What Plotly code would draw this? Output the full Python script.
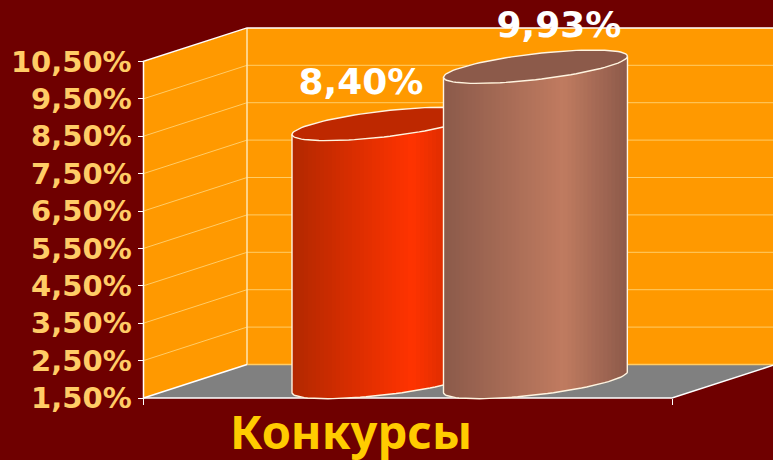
import math
import plotly.graph_objects as go

# ---- data ----
category = "Конкурсы"
series_values = [8.40, 9.93]
value_labels = ["8,40%", "9,93%"]
tick_values = [1.5, 2.5, 3.5, 4.5, 5.5, 6.5, 7.5, 8.5, 9.5, 10.5]
tick_labels = ["1,50%", "2,50%", "3,50%", "4,50%", "5,50%", "6,50%", "7,50%", "8,50%", "9,50%", "10,50%"]

# ---- colours ----
BG = "#6F0000"
WALL = "#FF9900"
FLOOR = "#808080"
GRID = "#FFCC66"
EDGE = "#FFFFFF"
TICK_TXT = "#FFCC66"
TITLE_TXT = "#FFCC00"
shades = [((178, 40, 0), (255, 51, 0), (191, 40, 0)), ((139, 90, 74), (192, 123, 96), (140, 90, 74))]
top_faces = ["#BE2800", "#8C5A4A"]
centers = [384.0, 535.5]
label_shift = [-23.0, 23.5]

# ---- oblique projection ----
W, H = 773, 460
PX = 37.4                    # pixels per percentage point
Y_BOTTOM, Y_TOP = 1.5 - 62 / PX, 1.5 + 398 / PX
X0, X1 = 143.5, 672.0        # front edge of the floor
DX, DY = 103.5, 33.5 / PX    # depth vector
RIGHT = 800
A, B1, B2 = 92.0, 10.5 / PX, 13.0 / PX   # cylinder ellipse
MID = 16.0 / PX              # centre of cylinder depth, as a value offset
LOW, HIGH = tick_values[0], tick_values[-1]

fig = go.Figure()


def poly(xs, ys, fill=None, line=None, width=1.0):
    fig.add_trace(go.Scatter(
        x=xs, y=ys, mode="lines", hoverinfo="skip", showlegend=False, cliponaxis=False,
        fill="toself" if fill else None, fillcolor=fill,
        line=dict(color=line or "rgba(0,0,0,0)", width=width if line else 0),
    ))


# walls and floor
poly([X0, X0 + DX, X0 + DX, X0], [LOW, LOW + DY, HIGH + DY, HIGH], fill=WALL)
poly([X0 + DX, RIGHT, RIGHT, X0 + DX], [LOW + DY, LOW + DY, HIGH + DY, HIGH + DY], fill=WALL)
EDGE_END = LOW + DY * (RIGHT - X1) / DX
poly([X0, X0 + DX, RIGHT, RIGHT, X1], [LOW, LOW + DY, LOW + DY, EDGE_END, LOW], fill=FLOOR)

# gridlines
for v in tick_values[1:-1]:
    poly([X0, X0 + DX, RIGHT], [v, v + DY, v + DY], line=GRID)
poly([X0 + DX, RIGHT], [LOW + DY, LOW + DY], line=GRID, width=1.5)
poly([X0 + DX, X0 + DX], [LOW + DY, HIGH + DY], line="#FFE6B0", width=1.5)

# wall and floor edges
poly([X0, X0, X0 + DX, RIGHT], [LOW, HIGH, HIGH + DY, HIGH + DY], line=EDGE, width=1.5)
poly([X0, X0 + DX], [LOW, LOW + DY], line=EDGE, width=1.5)
poly([X0, X1, RIGHT], [LOW, LOW, EDGE_END], line=EDGE, width=1.5)


def mix(a, b, f):
    return tuple(round(a[i] + (b[i] - a[i]) * f) for i in range(3))


def front_edge(cx, level, x):
    c = max(-1.0, min(1.0, (x - cx) / A))
    s = math.sqrt(1 - c * c)
    return level + B1 * c - B2 * s


# cylinders
for cx, value, (dark, light, end), face in zip(centers, series_values, shades, top_faces):
    base = LOW + MID
    top = value + MID
    n = 46
    for i in range(n):
        f = (i + 0.5) / n
        col = mix(dark, light, f / 0.65) if f < 0.65 else mix(light, end, (f - 0.65) / 0.35)
        xa = cx - A + 2 * A * i / n
        xb = cx - A + 2 * A * (i + 1) / n + (0.5 if i < n - 1 else 0)
        xs_strip = [xa + (xb - xa) * k / 4 for k in range(5)]
        bottom_edge = [front_edge(cx, base, x) for x in xs_strip]
        top_edge = [front_edge(cx, top, x) for x in reversed(xs_strip)]
        poly(xs_strip + xs_strip[::-1], bottom_edge + top_edge, fill=f"rgb{col}")
    ts = [2 * math.pi * i / 96 for i in range(97)]
    ex = [cx + A * math.cos(t) for t in ts]
    ey = [top + B1 * math.cos(t) + B2 * math.sin(t) for t in ts]
    poly(ex, ey, fill=face, line="#FFF4E0", width=1.4)
    lower = [t for t in ts if t <= math.pi]
    bx = [cx + A * math.cos(t) for t in lower]
    by = [base + B1 * math.cos(t) - B2 * math.sin(t) for t in lower]
    poly([cx + A] + bx + [cx - A],
         [top + B1] + by + [top - B1], line="#FFF4E0", width=1.4)

# value labels
fig.add_trace(go.Scatter(
    x=[c + s for c, s in zip(centers, label_shift)],
    y=[v + MID + 38.5 / PX for v in series_values],
    text=value_labels, mode="text", textposition="middle center", hoverinfo="skip",
    showlegend=False, cliponaxis=False,
    textfont=dict(family="DejaVu Sans", size=36, color="#FFFFFF", weight="bold"),
))

fig.add_annotation(
    x=350.5, y=LOW - 33 / PX, text=f"<b>{category}</b>", showarrow=False,
    font=dict(family="Noto Sans", size=47, color=TITLE_TXT),
    xanchor="center", yanchor="middle",
)

fig.update_layout(
    width=W, height=H, autosize=False, margin=dict(l=0, r=0, t=0, b=0),
    paper_bgcolor=BG, plot_bgcolor=BG, showlegend=False,
    font=dict(family="DejaVu Sans"),
    xaxis=dict(
        range=[0, W], domain=[0, 1], showgrid=False, zeroline=False, showline=False,
        tickvals=[X0, X1], ticktext=["", ""], ticks="outside", ticklen=6, tickcolor=EDGE,
        anchor="free", position=62 / H,
    ),
    yaxis=dict(
        range=[Y_BOTTOM, Y_TOP], domain=[0, 1], showgrid=False, zeroline=False, showline=False,
        tickvals=tick_values, ticktext=tick_labels, ticks="outside", ticklen=6, tickcolor=EDGE,
        tickfont=dict(family="DejaVu Sans", size=29, color=TICK_TXT, weight="bold"),
        anchor="free", position=X0 / W, automargin=False,
    ),
)
fig.write_html(
    "out.html",
    config={"displayModeBar": False},
    post_script=f"document.body.style.margin='0';document.body.style.background='{BG}';"
                "document.documentElement.style.overflow='hidden';",
)
